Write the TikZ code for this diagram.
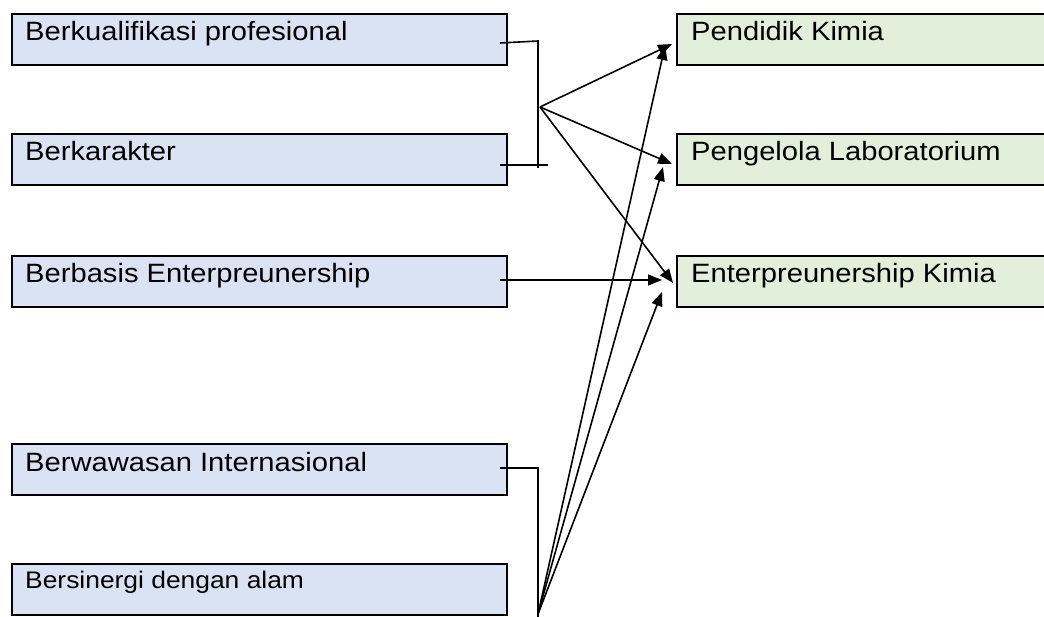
\documentclass[tikz,border=0pt]{standalone}
\usepackage{fontspec}
\setmainfont{Liberation Sans}[FakeStretch=1.1]
\usetikzlibrary{arrows.meta}
\definecolor{boxblue}{HTML}{DAE3F3}
\definecolor{boxgreen}{HTML}{E2EFDA}
\tikzset{
  lbox/.style={draw=black, line width=1.8pt, fill=boxblue, anchor=north west, minimum width=495pt, minimum height=51pt, inner sep=0pt},
  rbox/.style={draw=black, line width=1.8pt, fill=boxgreen, anchor=north west, minimum width=380pt, minimum height=51pt, inner sep=0pt},
  lbl/.style={anchor=base west, inner sep=0pt, font=\fontsize{26.5}{30}\selectfont},
  lblsmall/.style={anchor=base west, inner sep=0pt, font=\fontsize{24}{28}\selectfont},
  conn/.style={line width=1.6pt, draw=black},
  arr/.style={line width=1.6pt, draw=black, -{Triangle[length=14pt,width=11pt]}}
}
\begin{document}
\begin{tikzpicture}[x=1pt,y=-1pt]
\useasboundingbox (0,0) rectangle (1044,617);
\clip (0,0) rectangle (1044,617);
\fill[white] (0,0) rectangle (1044,617);
% left boxes
\node[lbox] (b1) at (11,13) {};
\node[lbl] (b1t) at (25,41) {Berkualifikasi profesional};
\node[lbox] (b2) at (11,133) {};
\node[lbl] (b2t) at (25,161) {Berkarakter};
\node[lbox] (b3) at (11,255) {};
\node[lbl] (b3t) at (25,283) {Berbasis Enterpreunership};
\node[lbox] (b4) at (11,443) {};
\node[lbl] (b4t) at (25,471) {Berwawasan Internasional};
\node[lbox] (b5) at (11,563) {};
\node[lblsmall] (b5t) at (25,588) {Bersinergi dengan alam};
% right boxes
\node[rbox] (p1) at (676,13) {};
\node[lbl] (p1t) at (691,41) {Pendidik Kimia};
\node[rbox] (p2) at (676,133) {};
\node[lbl] (p2t) at (691,161) {Pengelola Laboratorium};
\node[rbox] (p3) at (676,255) {};
\node[lbl] (p3t) at (691,283) {Enterpreunership Kimia};
% coordinates
\coordinate (s1) at (500,43);
\coordinate (hTop) at (538,41);
\coordinate (hBot) at (538,168);
\coordinate (s2) at (500,165);
\coordinate (e2) at (548,165);
\coordinate (hub) at (540,107);
\coordinate (t1) at (672,44);
\coordinate (t2) at (672,164);
\coordinate (t3) at (673,283);
\coordinate (s3) at (500,280);
\coordinate (e3) at (662,280);
\coordinate (s4) at (500,468);
\coordinate (c4) at (538,468);
\coordinate (c5) at (538,617);
\coordinate (org) at (538,614);
\coordinate (u1) at (665,46);
\coordinate (u2) at (663,167);
\coordinate (u3) at (662,292);
% connectors
\draw[conn] (s1) -- (hTop) -- (hBot);
\draw[conn] (s2) -- (e2);
\draw[arr] (hub) -- (t1);
\draw[arr] (hub) -- (t2);
\draw[arr] (hub) -- (t3);
\draw[arr] (s3) -- (e3);
\draw[conn] (s4) -- (c4) -- (c5);
\draw[arr] (org) -- (u1);
\draw[arr] (org) -- (u2);
\draw[arr] (org) -- (u3);
\end{tikzpicture}
\end{document}
